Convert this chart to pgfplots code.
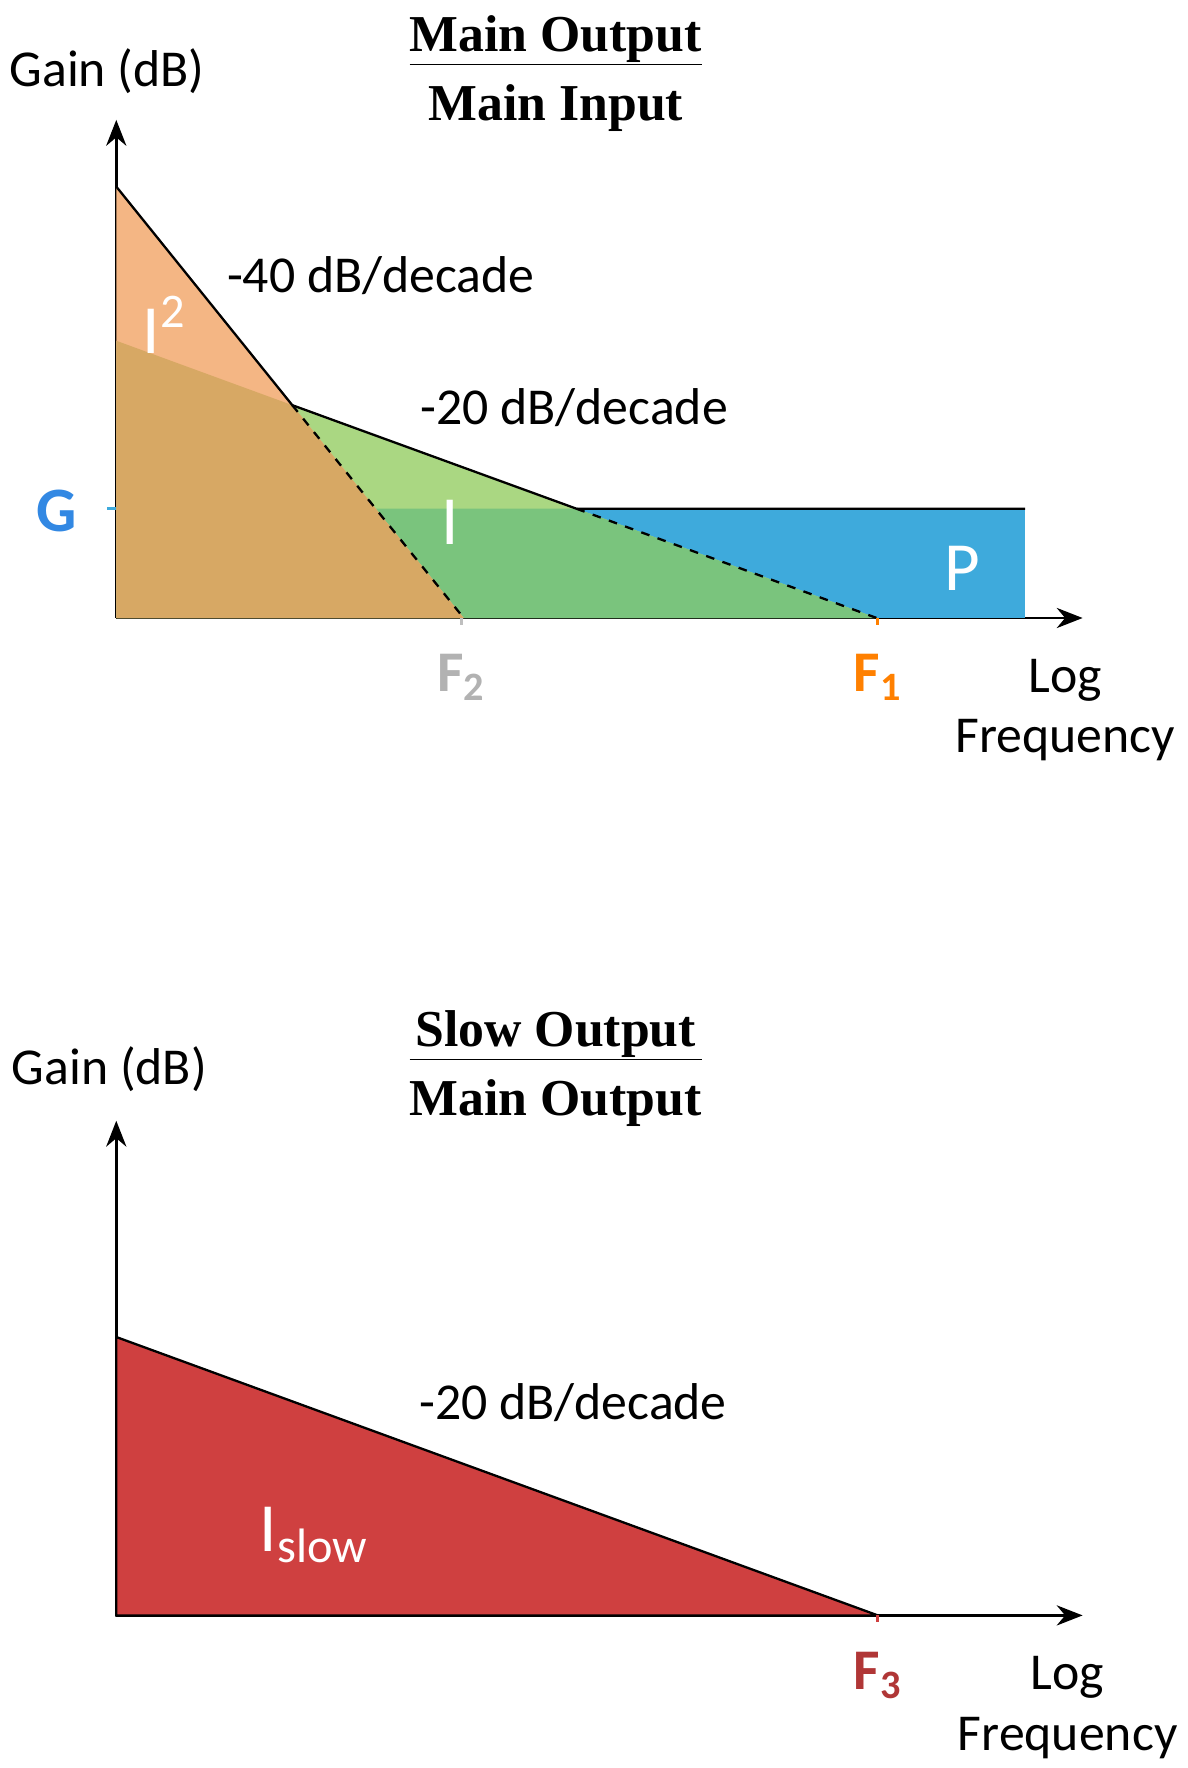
\documentclass[border=0pt]{standalone}
\usepackage{pgfplots}
\pgfplotsset{compat=1.18}
\usepackage{fontspec}
\setmainfont{Carlito}
\newfontfamily\titlefont{Liberation Serif}
\usetikzlibrary{arrows.meta}
\definecolor{peach}{RGB}{244,182,132}
\definecolor{darkor}{RGB}{215,168,100}
\definecolor{lgreen}{RGB}{170,215,130}
\definecolor{dgreen}{RGB}{122,196,125}
\definecolor{pblue}{RGB}{62,170,220}
\definecolor{pred}{RGB}{207,64,64}
\newcommand{\frc}[2]{{\titlefont\bfseries\begin{tabular}{@{}c@{}}#1\\[-2pt]\hline\rule{0pt}{19pt}#2\end{tabular}}}
\begin{document}
\begin{tikzpicture}
\pgfplotsset{myax/.style={x=0.4pt,y=0.4pt,xmin=0,xmax=840,ymin=0,clip=false,
 axis lines=left, axis line style={line width=1pt,-{Stealth[length=9pt,width=7pt]}},
 xtick=\empty,ytick=\empty,font=\fontsize{18}{21}\selectfont}}
\begin{axis}[myax,ymax=433,anchor=origin,at={(0,0)}]
\addplot[fill=pblue,draw=none] coordinates {(400,0)(400,95)(790,95)(790,0)} --cycle;
\addplot[fill=lgreen,draw=none] coordinates {(0,0)(0,241)(153,185)(400,95)(661,0)} --cycle;
\addplot[fill=dgreen,draw=none] coordinates {(0,0)(0,95)(400,95)(661,0)} --cycle;
\addplot[fill=peach,draw=none] coordinates {(0,0)(0,375)(302,0)} --cycle;
\addplot[fill=darkor,draw=none] coordinates {(0,0)(0,241)(153,185)(302,0)} --cycle;
\addplot[black,line width=0.8pt] coordinates {(0,375)(153,185)(400,95)(790,95)};
\addplot[black,dashed,line width=0.8pt] coordinates {(153,185)(302,0)};
\addplot[black,dashed,line width=0.8pt] coordinates {(400,95)(661,0)};
\addplot[pblue,line width=1pt] coordinates {(-8,95)(0,95)};
\addplot[gray!50,line width=1pt] coordinates {(300,0)(300,-6)};
\addplot[orange,line width=1pt] coordinates {(662,0)(662,-6)};
\node at (axis cs:-8,475) {Gain (dB)};
\node at (axis cs:382,473) {\frc{Main Output}{Main Input}};
\node at (axis cs:230,298) {-40 dB/decade};
\node at (axis cs:398,183) {-20 dB/decade};
\node[white,font=\fontsize{24}{26}\selectfont] at (axis cs:42,255) {I\textsuperscript{2}};
\node[white,font=\fontsize{24}{26}\selectfont] at (axis cs:290,83) {I};
\node[white,font=\fontsize{24}{26}\selectfont] at (axis cs:735,43) {P};
\node[pblue!80!blue,font=\fontsize{22}{24}\selectfont\bfseries] at (axis cs:-52,93) {G};
\node[gray!60,font=\fontsize{20}{22}\selectfont\bfseries] at (axis cs:300,-52) {F\textsubscript{2}};
\node[orange,font=\fontsize{20}{22}\selectfont\bfseries] at (axis cs:662,-52) {F\textsubscript{1}};
\node[align=center] at (axis cs:825,-80) {Log\\Frequency};
\end{axis}
\begin{axis}[myax,ymax=430,anchor=origin,at={(0,-346.8pt)}]
\addplot[fill=pred,draw=black,line width=0.8pt] coordinates {(0,0)(0,242)(662,0)} --cycle;
\addplot[pred,line width=1pt] coordinates {(662,0)(662,-6)};
\node at (axis cs:-6,475) {Gain (dB)};
\node at (axis cs:382,475) {\frc{Slow Output}{Main Output}};
\node at (axis cs:397,185) {-20 dB/decade};
\node[white,font=\fontsize{24}{26}\selectfont] at (axis cs:172,70) {I\textsubscript{slow}};
\node[pred!85!black,font=\fontsize{20}{22}\selectfont\bfseries] at (axis cs:662,-52) {F\textsubscript{3}};
\node[align=center] at (axis cs:827,-80) {Log\\Frequency};
\end{axis}
\end{tikzpicture}
\end{document}
